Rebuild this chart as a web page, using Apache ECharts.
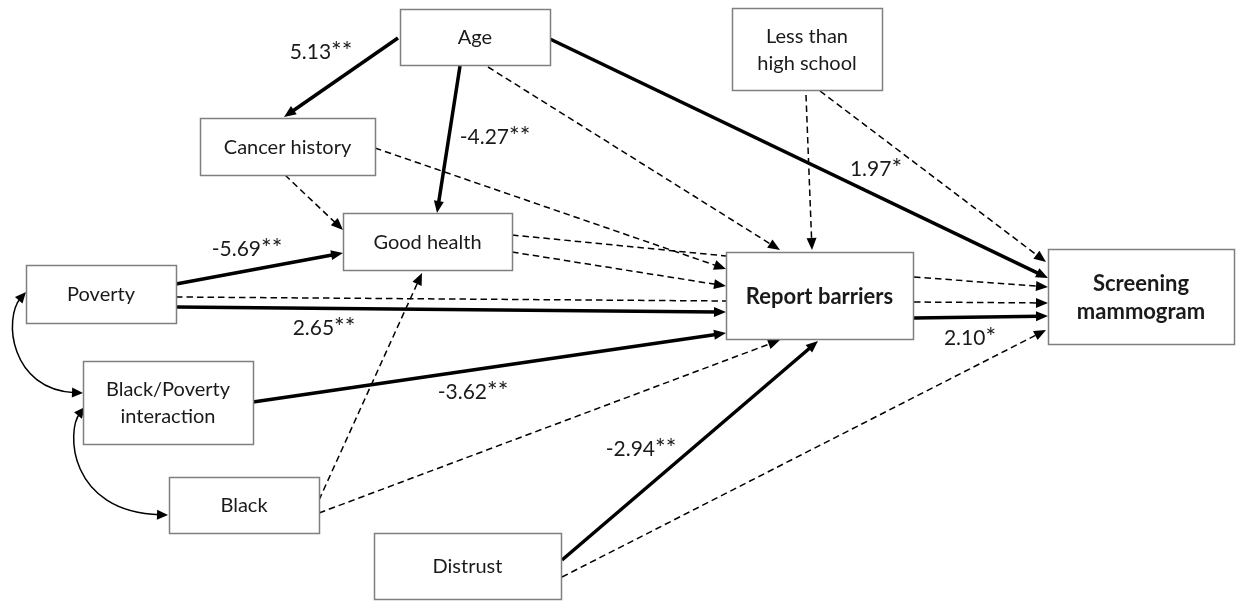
<!DOCTYPE html>
<html>
<head>
<meta charset="utf-8">
<script src="https://cdn.jsdelivr.net/npm/echarts@6/dist/echarts.min.js"></script>
<style>
  html, body { margin: 0; padding: 0; background: #ffffff; }
  #chart { width: 1237px; height: 601px; }
</style>
</head>
<body>
<div id="chart"></div>
<script>
// Path model of screening mammogram use: variables, paths and path coefficients.
const nodeNames = [
  'Age', 'Less than\nhigh school', 'Cancer history', 'Good health', 'Poverty',
  'Black/Poverty\ninteraction', 'Black', 'Distrust', 'Report barriers', 'Screening\nmammogram'
];
const outcomeNodes = ['Report barriers', 'Screening\nmammogram'];

// Directed paths (from -> to), coefficient (null = not significant) and significance stars
const pathFrom = ['Age', 'Age', 'Age', 'Age', 'Less than\nhigh school', 'Less than\nhigh school',
  'Cancer history', 'Cancer history', 'Good health', 'Good health', 'Poverty', 'Poverty', 'Poverty',
  'Black/Poverty\ninteraction', 'Black', 'Black', 'Distrust', 'Distrust',
  'Report barriers', 'Report barriers', 'Report barriers'];
const pathTo = ['Cancer history', 'Good health', 'Report barriers', 'Screening\nmammogram',
  'Report barriers', 'Screening\nmammogram', 'Good health', 'Report barriers', 'Report barriers',
  'Report barriers', 'Good health', 'Report barriers', 'Report barriers', 'Report barriers',
  'Good health', 'Report barriers', 'Report barriers', 'Screening\nmammogram',
  'Screening\nmammogram', 'Screening\nmammogram', 'Screening\nmammogram'];
const pathCoef = [5.13, -4.27, null, 1.97, null, null, null, null, null, null, -5.69, null, 2.65,
  -3.62, null, null, -2.94, null, null, null, 2.10];
const pathStars = ['**', '**', '', '*', '', '', '', '', '', '', '**', '', '**', '**', '', '', '**', '', '', '', '*'];

// Correlations (double-headed curved arrows)
const corrPairs = [['Poverty', 'Black/Poverty\ninteraction'], ['Black/Poverty\ninteraction', 'Black']];

// ---- diagram layout (diagram units on a 1237 x 601 canvas) ----
const nodeBoxes = [
  [400, 9, 550, 65], [732, 8, 882, 90], [200, 118, 375, 175], [343, 213, 512, 270],
  [26, 265, 176, 323], [83, 361, 253, 444], [169, 477, 319, 533], [374, 533, 561, 599],
  [726, 252, 913, 339], [1048, 249, 1234, 344]
];
// anchor points of each path: start, arrow tip, whether an arrowhead is drawn
const pathAnchors = [
  [398, 38, 284, 117, 1], [460, 66, 437, 213, 1], [488, 67, 780, 250, 1], [550, 39, 1048, 278, 1],
  [806, 95, 812, 250, 1], [820, 91, 1046, 262, 1], [285, 175, 343, 230, 1], [375, 148, 726, 269, 1],
  [512, 235, 726, 256, 0], [512, 252, 726, 286, 1], [176, 284, 343, 253, 1], [176, 297, 726, 301, 0],
  [176, 307, 726, 312, 1], [253, 402, 726, 333, 1], [319, 500, 422, 273, 1], [319, 513, 780, 340, 1],
  [562, 560, 818, 341, 1], [562, 577, 1046, 330, 1], [914, 277, 1048, 287, 1], [914, 302, 1048, 303, 1],
  [914, 318, 1048, 316, 1]
];
const coefLabelAt = [[321, 52], [495, 137], null, [876, 169], null, null, null, null, null, null,
  [247, 249], null, [324, 328], [473, 392], null, null, [641, 449], null, null, null, [970, 338]];
// cubic bezier for correlations: start, control 1, control 2, end
const corrCurves = [
  [26, 292, 3, 318, 10, 390, 83, 393],
  [85, 407, 66, 430, 68, 512, 168, 515]
];

const FONT = 'Lato, "Open Sans", sans-serif';
const INK = '#1a1a1a';

function arrowHead(tip, from, len, half) {
  const dx = tip[0] - from[0], dy = tip[1] - from[1];
  const d = Math.sqrt(dx * dx + dy * dy) || 1;
  const ux = dx / d, uy = dy / d;
  const bx = tip[0] - ux * len, by = tip[1] - uy * len;
  return {
    points: [tip, [bx - uy * half, by + ux * half], [bx + uy * half, by - ux * half]],
    base: [tip[0] - ux * len * 0.7, tip[1] - uy * len * 0.7]
  };
}

const pathData = pathAnchors.map((a, i) => [a[0], a[1], a[2], a[3], pathCoef[i] === null ? 0 : 1, a[4]]);
const nodeData = nodeBoxes.map((b, i) => [b[0], b[1], b[2], b[3], outcomeNodes.indexOf(nodeNames[i]) >= 0 ? 1 : 0]);
const labelData = [];
const labelText = [];
pathCoef.forEach((c, i) => {
  if (c !== null && coefLabelAt[i]) {
    labelData.push(coefLabelAt[i]);
    labelText.push('{v|' + c.toFixed(2) + '}{s|' + pathStars[i] + '}');
  }
});

const chart = echarts.init(document.getElementById('chart'), null, { renderer: 'canvas' });
chart.setOption({
  backgroundColor: '#ffffff',
  animation: false,
  grid: { left: 0, right: 0, top: 0, bottom: 0 },
  xAxis: { type: 'value', min: 0, max: 1237, show: false },
  yAxis: { type: 'value', min: 0, max: 601, inverse: true, show: false },
  series: [
    {
      // directed paths
      type: 'custom',
      silent: true,
      z: 1,
      data: pathData,
      encode: { x: [0, 2], y: [1, 3] },
      renderItem: function (params, api) {
        const p1 = api.coord([api.value(0), api.value(1)]);
        const p2 = api.coord([api.value(2), api.value(3)]);
        const solid = api.value(4) === 1;
        const hasArrow = api.value(5) === 1;
        const children = [];
        let end = p2;
        if (hasArrow) {
          const ah = arrowHead(p2, p1, 12, 5);
          end = ah.base;
          children.push({ type: 'polygon', shape: { points: ah.points }, style: { fill: '#000' } });
        }
        children.unshift({
          type: 'line',
          shape: { x1: p1[0], y1: p1[1], x2: end[0], y2: end[1] },
          style: solid
            ? { stroke: '#000', lineWidth: 3.5, lineCap: 'butt' }
            : { stroke: '#000', lineWidth: 1.5, lineDash: [6.5, 4] }
        });
        return { type: 'group', children: children };
      }
    },
    {
      // correlations between exogenous variables
      type: 'custom',
      silent: true,
      z: 1,
      data: corrCurves,
      encode: { x: [0, 6], y: [1, 7] },
      renderItem: function (params, api) {
        const p0 = api.coord([api.value(0), api.value(1)]);
        const c1 = api.coord([api.value(2), api.value(3)]);
        const c2 = api.coord([api.value(4), api.value(5)]);
        const p3 = api.coord([api.value(6), api.value(7)]);
        const a1 = arrowHead(p0, c1, 11, 5);
        const a2 = arrowHead(p3, c2, 11, 5);
        return {
          type: 'group',
          children: [
            {
              type: 'bezierCurve',
              shape: { x1: a1.base[0], y1: a1.base[1], cpx1: c1[0], cpy1: c1[1], cpx2: c2[0], cpy2: c2[1], x2: a2.base[0], y2: a2.base[1] },
              style: { stroke: '#000', lineWidth: 1.5, fill: null }
            },
            { type: 'polygon', shape: { points: a1.points }, style: { fill: '#000' } },
            { type: 'polygon', shape: { points: a2.points }, style: { fill: '#000' } }
          ]
        };
      }
    },
    {
      // variable boxes
      type: 'custom',
      silent: true,
      z: 2,
      data: nodeData,
      encode: { x: [0, 2], y: [1, 3] },
      renderItem: function (params, api) {
        const a = api.coord([api.value(0), api.value(1)]);
        const b = api.coord([api.value(2), api.value(3)]);
        const bold = api.value(4) === 1;
        return {
          type: 'group',
          children: [
            {
              type: 'rect',
              shape: { x: a[0] + 0.5, y: a[1] + 0.5, width: b[0] - a[0], height: b[1] - a[1] },
              style: { fill: '#ffffff', stroke: '#7f7f7f', lineWidth: 1.5 }
            },
            {
              type: 'text',
              x: (a[0] + b[0]) / 2,
              y: (a[1] + b[1]) / 2 + 1,
              style: {
                text: nodeNames[params.dataIndex],
                fill: INK,
                font: (bold ? 'bold 22px ' : '20px ') + FONT,
                lineHeight: bold ? 28 : 27,
                align: 'center',
                verticalAlign: 'middle'
              }
            }
          ]
        };
      }
    },
    {
      // path coefficients
      type: 'custom',
      silent: true,
      z: 3,
      data: labelData,
      encode: { x: 0, y: 1 },
      renderItem: function (params, api) {
        const p = api.coord([api.value(0), api.value(1)]);
        return {
          type: 'text',
          x: p[0],
          y: p[1],
          style: {
            text: labelText[params.dataIndex],
            fill: INK,
            align: 'center',
            verticalAlign: 'middle',
            rich: {
              v: { fontFamily: FONT, fontSize: 21, fill: INK, lineHeight: 24 },
              s: { fontFamily: FONT, fontSize: 25, fill: INK, lineHeight: 24 }
            }
          }
        };
      }
    }
  ]
});
</script>
</body>
</html>
